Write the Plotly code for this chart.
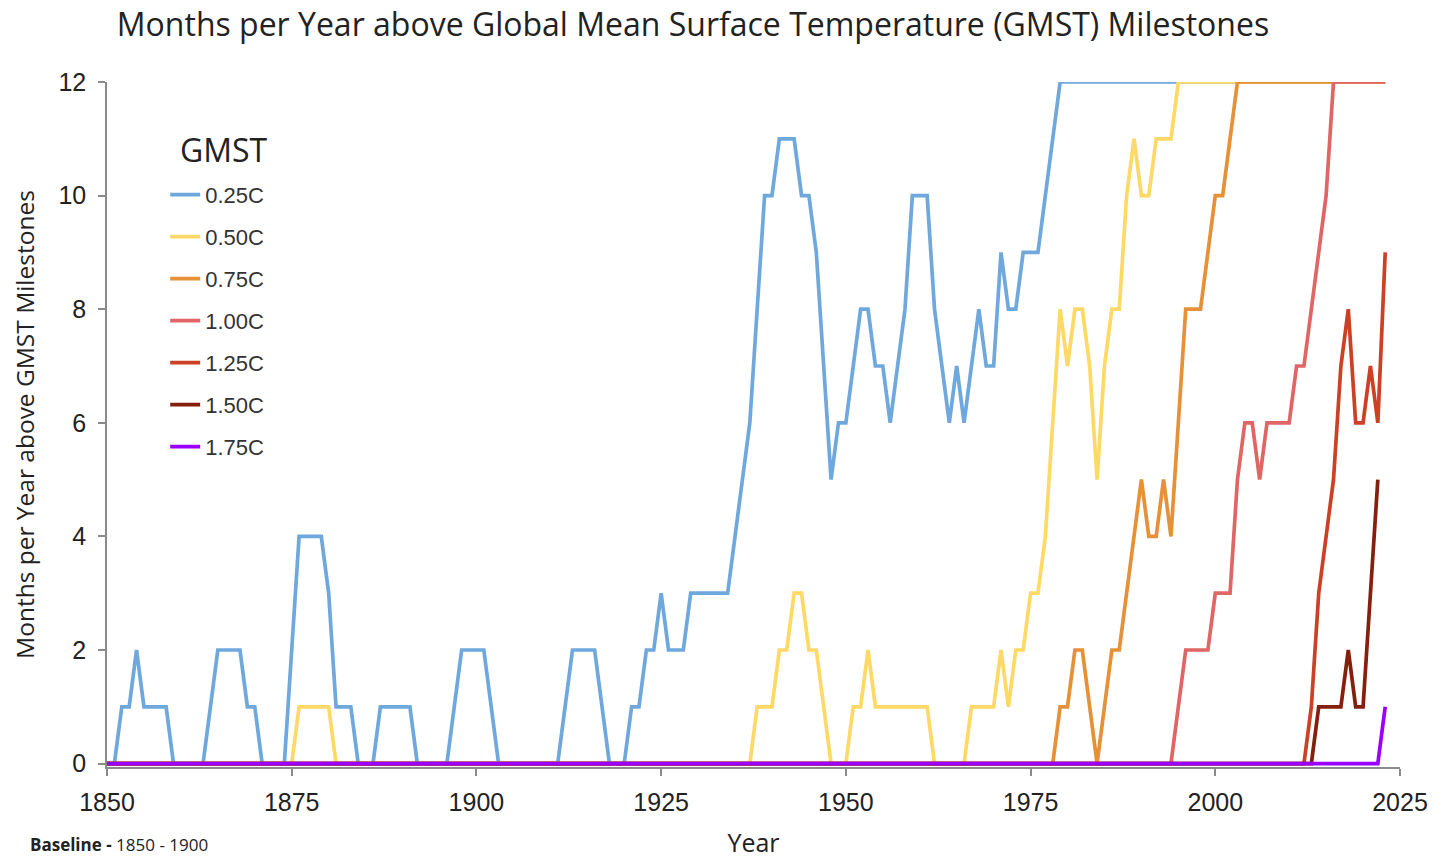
import plotly.graph_objects as go

years = list(range(1850, 2024))

# Months per year above each GMST milestone (one row per decade)
g025 = ([0, 0, 1, 1, 2, 1, 1, 1, 1, 0] +
        [0, 0, 0, 0, 1, 2, 2, 2, 2, 1] +
        [1, 0, 0, 0, 0, 2, 4, 4, 4, 4] +
        [3, 1, 1, 1, 0, 0, 0, 1, 1, 1] +
        [1, 1, 0, 0, 0, 0, 0, 1, 2, 2] +
        [2, 2, 1, 0, 0, 0, 0, 0, 0, 0] +
        [0, 0, 1, 2, 2, 2, 2, 1, 0, 0] +
        [0, 1, 1, 2, 2, 3, 2, 2, 2, 3] +
        [3, 3, 3, 3, 3, 4, 5, 6, 8, 10] +
        [10, 11, 11, 11, 10, 10, 9, 7, 5, 6] +
        [6, 7, 8, 8, 7, 7, 6, 7, 8, 10] +
        [10, 10, 8, 7, 6, 7, 6, 7, 8, 7] +
        [7, 9, 8, 8, 9, 9, 9, 10, 11, 12] +
        [12] * 10 + [12] * 10 + [12] * 10 + [12] * 10 +
        [12, 12, 12, 12])

g050 = ([0] * 10 + [0] * 10 +
        [0, 0, 0, 0, 0, 0, 1, 1, 1, 1] +
        [1, 0, 0, 0, 0, 0, 0, 0, 0, 0] +
        [0] * 10 + [0] * 10 + [0] * 10 + [0] * 10 +
        [0, 0, 0, 0, 0, 0, 0, 0, 1, 1] +
        [1, 2, 2, 3, 3, 2, 2, 1, 0, 0] +
        [0, 1, 1, 2, 1, 1, 1, 1, 1, 1] +
        [1, 1, 0, 0, 0, 0, 0, 1, 1, 1] +
        [1, 2, 1, 2, 2, 3, 3, 4, 6, 8] +
        [7, 8, 8, 7, 5, 7, 8, 8, 10, 11] +
        [10, 10, 11, 11, 11, 12, 12, 12, 12, 12] +
        [12] * 10 + [12] * 10 +
        [12, 12, 12, 12])

g075 = ([0] * 120 +
        [0, 0, 0, 0, 0, 0, 0, 0, 0, 1] +
        [1, 2, 2, 1, 0, 1, 2, 2, 3, 4] +
        [5, 4, 4, 5, 4, 6, 8, 8, 8, 9] +
        [10, 10, 11, 12, 12, 12, 12, 12, 12, 12] +
        [12] * 10 +
        [12, 12, 12, 12])

g100 = ([0] * 140 +
        [0, 0, 0, 0, 0, 1, 2, 2, 2, 2] +
        [3, 3, 3, 5, 6, 6, 5, 6, 6, 6] +
        [6, 7, 7, 8, 9, 10, 12, 12, 12, 12] +
        [12, 12, 12, 12])

g125 = ([0] * 160 +
        [0, 0, 0, 1, 3, 4, 5, 7, 8, 6] +
        [6, 7, 6, 9])

g150 = ([0] * 160 +
        [0, 0, 0, 0, 1, 1, 1, 1, 2, 1] +
        [1, 3, 5, None])

g175 = ([0] * 170 +
        [0, 0, 0, 1])

series_names = ["0.25C", "0.50C", "0.75C", "1.00C", "1.25C", "1.50C", "1.75C"]
series_values = [g025, g050, g075, g100, g125, g150, g175]
series_colors = ["#6fa8dc", "#ffd966", "#e69138", "#e06666", "#cc4125", "#85200c", "#9900ff"]

x_ticks = [1850, 1875, 1900, 1925, 1950, 1975, 2000, 2025]
y_ticks = [0, 2, 4, 6, 8, 10, 12]

fig = go.Figure()
for name, vals, col in zip(series_names, series_values, series_colors):
    fig.add_trace(go.Scatter(
        x=years, y=vals, name=name, mode="lines",
        line=dict(color=col, width=3.7),
        legendgroup=name, connectgaps=False,
    ))

axis_col = "#8a8a8a"
tick_font = dict(family="Liberation Sans, Arial, sans-serif", size=25, color="#222222")
title_family = "Open Sans, sans-serif"

fig.update_layout(
    width=1439, height=859,
    margin=dict(l=107, r=39, t=82, b=92, autoexpand=False),
    paper_bgcolor="white", plot_bgcolor="white",
    title=dict(
        text="Months per Year above Global Mean Surface Temperature (GMST) Milestones",
        x=0.4816, xanchor="center", y=0.971, yanchor="middle",
        font=dict(family=title_family, size=32, color="#222222"),
    ),
    xaxis=dict(
        range=[1850, 2025], tickvals=x_ticks, ticks="outside", ticklen=7,
        tickcolor=axis_col, tickwidth=1.5, showline=True, linecolor=axis_col,
        linewidth=1.5, showgrid=False, zeroline=False, tickfont=tick_font,
        ticklabelstandoff=5, automargin=False,
        title=dict(text="Year", standoff=23,
                   font=dict(family=title_family, size=25, color="#222222")),
    ),
    yaxis=dict(
        range=[-0.06, 12], tickvals=y_ticks, ticks="outside", ticklen=7,
        tickcolor=axis_col, tickwidth=1.5, showline=True, linecolor=axis_col,
        linewidth=1.5, showgrid=False, zeroline=False, tickfont=tick_font,
        ticklabelstandoff=7, automargin=False,
        title=dict(text="Months per Year above GMST Milestones", standoff=17,
                   font=dict(family=title_family, size=24.5, color="#222222")),
    ),
    xaxis2=dict(
        overlaying="x", anchor="y", range=[1850, 2025], tickvals=x_ticks,
        ticks="inside", ticklen=7, tickcolor=axis_col, tickwidth=1.5,
        showticklabels=False, showline=False, showgrid=False, zeroline=False,
    ),
    yaxis2=dict(
        overlaying="y", anchor="x", range=[-0.06, 12], tickvals=y_ticks,
        ticks="inside", ticklen=7, tickcolor=axis_col, tickwidth=1.5,
        showticklabels=False, showline=False, showgrid=False, zeroline=False,
    ),
    legend=dict(
        x=0.045, y=0.866, xanchor="left", yanchor="top",
        bgcolor="rgba(0,0,0,0)", traceorder="grouped", tracegroupgap=10.4,
        font=dict(family="Liberation Sans, Arial, sans-serif", size=22, color="#333333"),
    ),
    showlegend=True,
)

# legend heading
fig.add_annotation(
    text="GMST", xref="paper", yref="paper",
    x=(224 - 107) / 1293, y=(767.4 - 150) / 685.4,
    xanchor="center", yanchor="middle", showarrow=False,
    font=dict(family=title_family, size=32, color="#222222"),
)

fig.add_annotation(
    text="<b>Baseline -</b> 1850 - 1900",
    xref="paper", yref="paper", x=(28 - 107) / 1293, y=-78 / 685.4,
    xanchor="left", yanchor="middle", showarrow=False,
    font=dict(family=title_family, size=17, color="#222222"),
)

fig.write_html("out.html", config={"displayModeBar": False},
               post_script="document.body.style.margin='0';")
